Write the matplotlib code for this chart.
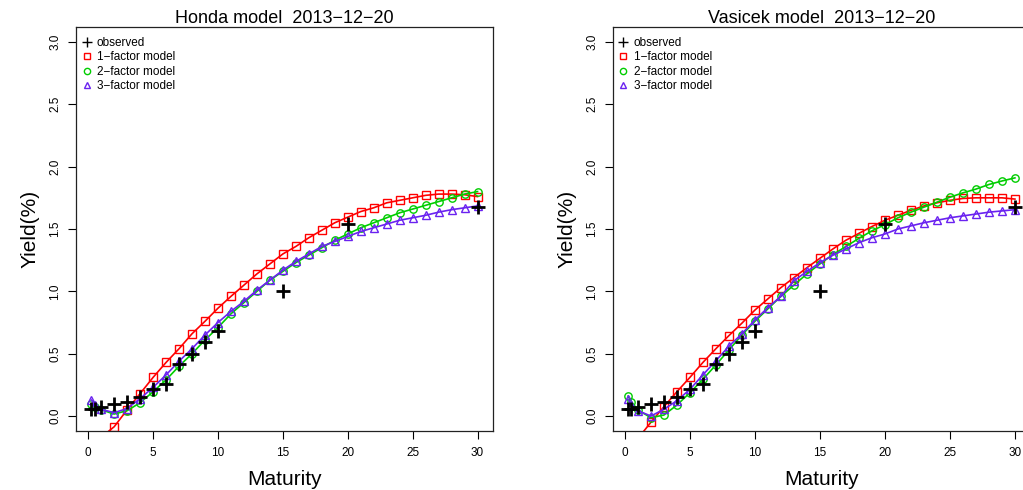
import matplotlib
matplotlib.use('Agg')
import matplotlib.pyplot as plt
from matplotlib.lines import Line2D

plt.rcParams['font.family'] = ['Liberation Sans', 'DejaVu Sans']

# observed yields (same date for both panels)
obs_mat = [0.25, 0.5, 1, 2, 3, 4, 5, 6, 7, 8, 9, 10, 15, 20, 30]
obs_yield = [0.06, 0.06, 0.075, 0.10, 0.115, 0.15, 0.217, 0.26, 0.42, 0.495,
             0.59, 0.68, 1.00, 1.54, 1.68]

# model maturities
mod_mat = [0.25, 0.5] + list(range(1, 31))

# Honda model fits
honda_1f = [-0.25, -0.22, -0.17, -0.086, 0.05, 0.18, 0.31, 0.43, 0.54, 0.66,
            0.76, 0.865, 0.96, 1.05, 1.14, 1.22, 1.30, 1.36, 1.43, 1.49,
            1.55, 1.595, 1.64, 1.67, 1.71, 1.73, 1.75, 1.77, 1.78, 1.78,
            1.775, 1.76]
honda_2f = [0.10, 0.07, 0.05, 0.016, 0.043, 0.107, 0.195, 0.29, 0.40, 0.50,
            0.61, 0.71, 0.82, 0.91, 1.00, 1.09, 1.16, 1.23, 1.29, 1.35,
            1.41, 1.46, 1.51, 1.55, 1.59, 1.63, 1.66, 1.69, 1.72, 1.75,
            1.78, 1.80]
honda_3f = [0.128, 0.088, 0.054, 0.027, 0.06, 0.14, 0.23, 0.33, 0.44, 0.54,
            0.65, 0.75, 0.84, 0.92, 1.01, 1.09, 1.17, 1.24, 1.30, 1.36,
            1.40, 1.44, 1.48, 1.51, 1.54, 1.57, 1.59, 1.61, 1.635, 1.655,
            1.67, 1.685]

# Vasicek model fits
vas_1f = [-0.28, -0.24, -0.18, -0.05, 0.075, 0.195, 0.31, 0.43, 0.54, 0.645,
          0.745, 0.85, 0.94, 1.03, 1.11, 1.19, 1.265, 1.34, 1.41, 1.465,
          1.52, 1.57, 1.61, 1.65, 1.685, 1.71, 1.73, 1.745, 1.75, 1.75,
          1.75, 1.74]
vas_2f = [0.16, 0.115, 0.048, -0.013, 0.008, 0.088, 0.187, 0.295, 0.41, 0.53,
          0.65, 0.76, 0.86, 0.96, 1.05, 1.14, 1.22, 1.295, 1.36, 1.425,
          1.485, 1.535, 1.59, 1.635, 1.675, 1.715, 1.755, 1.79, 1.82, 1.857,
          1.885, 1.91]
vas_3f = [0.134, 0.09, 0.043, 0.0, 0.054, 0.123, 0.214, 0.33, 0.444, 0.56,
          0.66, 0.77, 0.87, 0.96, 1.085, 1.16, 1.23, 1.29, 1.34, 1.39,
          1.43, 1.46, 1.50, 1.525, 1.55, 1.57, 1.59, 1.605, 1.62, 1.635,
          1.645, 1.655]

titles = ['Honda model  2013\u221212\u221220', 'Vasicek model  2013\u221212\u221220']
labels = ['observed', '1\u2212factor model', '2\u2212factor model', '3\u2212factor model']
xticks = [0, 5, 10, 15, 20, 25, 30]
yticks = [0.0, 0.5, 1.0, 1.5, 2.0, 2.5, 3.0]

red = '#FF0000'
green = '#00CD00'
purple = '#6A22F0'

fig = plt.figure(figsize=(10.23, 4.9), dpi=100)
positions = [[76 / 1023, 59 / 490, 417 / 1023, 404 / 490],
             [612.7 / 1023, 59 / 490, 417.7 / 1023, 404 / 490]]
fits = [(honda_1f, honda_2f, honda_3f), (vas_1f, vas_2f, vas_3f)]

for pos, title, (f1, f2, f3) in zip(positions, titles, fits):
    ax = fig.add_axes(pos)
    ax.plot(obs_mat, obs_yield, linestyle='none', marker='+', color='black',
            markersize=10, markeredgewidth=2, zorder=4)
    ax.plot(mod_mat, f1, color=red, lw=1.2, marker='s', markersize=5.3,
            markerfacecolor='none', markeredgewidth=1)
    ax.plot(mod_mat, f2, color=green, lw=1.2, marker='o', markersize=5.3,
            markerfacecolor='none', markeredgewidth=1)
    ax.plot(mod_mat, f3, color=purple, lw=1.2, marker='^', markersize=6.3,
            markerfacecolor='none', markeredgewidth=1)

    ax.set_xlim(-0.94, 31.19)
    ax.set_ylim(-0.12, 3.12)
    ax.set_xticks(xticks)
    ax.set_xticklabels([str(t) for t in xticks])
    ax.set_yticks(yticks)
    ax.set_yticklabels(['%.1f' % t for t in yticks], rotation=90, va='center')
    ax.tick_params(direction='out', length=5.5, width=0.8, labelsize=8.5, pad=6)
    ax.tick_params(axis='y', pad=5)
    for sp in ax.spines.values():
        sp.set_linewidth(0.9)
        sp.set_color('#222222')

    ax.set_title(title, fontsize=13, pad=2)
    ax.set_xlabel('Maturity', fontsize=15)
    ax.set_ylabel('Yield(%)', fontsize=15)
    ax.xaxis.set_label_coords(0.5, -0.097)
    ax.yaxis.set_label_coords(-0.087, 0.5)

    handles = [
        Line2D([], [], linestyle='none', marker='+', color='black', markersize=7, markeredgewidth=1),
        Line2D([], [], linestyle='none', marker='s', color=red, markersize=4.5, markerfacecolor='none'),
        Line2D([], [], linestyle='none', marker='o', color=green, markersize=4.5, markerfacecolor='none'),
        Line2D([], [], linestyle='none', marker='^', color=purple, markersize=5, markerfacecolor='none'),
    ]
    ax.legend(handles, labels, loc='upper left', bbox_to_anchor=(0.014, 0.975),
              frameon=False, fontsize=8.5, handlelength=0.8, handletextpad=0.47,
              labelspacing=0.2, borderaxespad=0, borderpad=0)

fig.savefig('out.png', dpi=100)
